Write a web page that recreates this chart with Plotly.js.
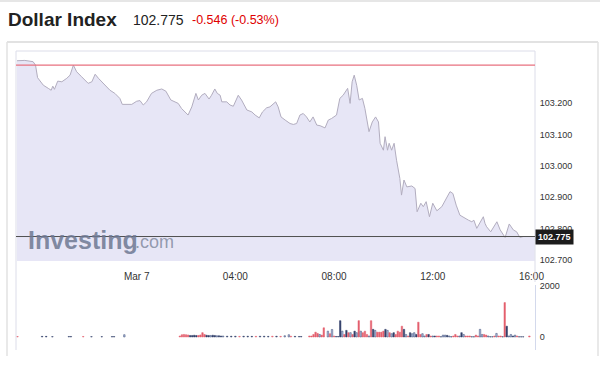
<!DOCTYPE html>
<html><head><meta charset="utf-8">
<script src="https://cdn.plot.ly/plotly-3.0.1.min.js"></script>
<style>html,body{margin:0;padding:0;background:#fff}#chart{width:600px;height:366px}</style>
</head><body><div id="chart"></div><script>
// ---- data ----
const instrument = "Dollar Index";
const lastPrice = 102.775;
const change = -0.546;
const changePct = -0.53;
const prevClose = 103.321;

const priceTimes = ["6 19:09","6 19:28","6 19:48","6 19:54","6 19:59","6 20:13","6 20:25","6 20:32","6 20:36","6 20:40","6 20:48","6 20:58","6 21:10","6 21:18","6 21:26","6 21:34","6 21:46","6 22:02","6 22:11","6 22:19","6 22:27","6 22:43","6 22:55","6 23:07","6 23:19","6 23:25","6 23:36","6 23:48",
"7 00:00","7 00:08","7 00:16","7 00:24","7 00:36","7 00:49","7 01:01","7 01:11","7 01:23","7 01:33","7 01:41","7 01:49","7 02:05","7 02:14","7 02:24","7 02:30","7 02:38","7 02:46","7 02:56","7 03:02","7 03:10","7 03:16","7 03:23","7 03:27","7 03:39","7 03:47","7 03:55",
"7 04:07","7 04:15","7 04:28","7 04:40","7 04:48","7 04:58","7 05:06","7 05:16","7 05:24","7 05:38","7 05:44","7 05:51","7 06:01","7 06:13","7 06:21","7 06:29","7 06:37","7 06:45","7 06:53","7 07:01","7 07:09","7 07:18","7 07:26","7 07:38","7 07:46","7 07:54",
"7 08:06","7 08:14","7 08:22","7 08:33","7 08:39","7 08:44","7 08:49","7 08:55","7 09:01","7 09:09","7 09:15","7 09:25","7 09:33","7 09:41","7 09:48","7 09:52","7 10:00","7 10:04","7 10:10","7 10:14","7 10:20","7 10:26","7 10:32","7 10:40","7 10:44","7 10:50","7 10:57","7 11:09","7 11:17","7 11:22","7 11:31","7 11:37","7 11:44","7 11:52",
"7 12:00","7 12:10","7 12:22","7 12:34","7 12:42","7 12:49","7 12:57","7 13:06","7 13:18","7 13:27","7 13:35","7 13:40","7 13:47","7 13:55","7 14:03","7 14:07","7 14:11","7 14:21","7 14:27","7 14:36","7 14:44","7 14:56","7 15:06","7 15:16","7 15:24","7 15:32","7 15:40","7 16:08"];
const priceValues = [103.335,103.336,103.332,103.321,103.281,103.257,103.247,103.241,103.254,103.244,103.270,103.268,103.279,103.289,103.321,103.300,103.284,103.263,103.268,103.292,103.279,103.257,103.241,103.231,103.215,103.196,103.196,103.196,
103.206,103.208,103.194,103.204,103.231,103.241,103.245,103.238,103.210,103.204,103.199,103.183,103.162,103.188,103.231,103.210,103.225,103.231,103.213,103.225,103.245,103.231,103.225,103.204,103.204,103.194,103.190,
103.225,103.210,103.178,103.172,103.162,103.153,103.172,103.185,103.188,103.204,103.188,103.156,103.146,103.135,103.132,103.135,103.162,103.167,103.156,103.140,103.156,103.130,103.128,103.121,103.146,103.151,
103.162,103.215,103.225,103.247,103.199,103.268,103.289,103.257,103.210,103.215,103.183,103.109,103.140,103.156,103.140,103.072,103.050,103.093,103.050,103.072,103.050,103.072,103.018,102.960,102.907,102.955,102.933,102.936,102.928,102.854,102.881,102.870,102.886,102.838,
102.881,102.857,102.870,102.902,102.918,102.912,102.875,102.843,102.833,102.827,102.822,102.827,102.801,102.822,102.838,102.817,102.806,102.790,102.804,102.822,102.796,102.772,102.815,102.796,102.790,102.772,102.775,102.775];

const volTimes = ["6 19:10","6 20:10","6 20:20","6 20:35","6 21:15","6 21:20","6 21:50","6 22:10","6 22:35","6 23:00","6 23:05","6 23:30",
"7 01:45","7 01:50","7 01:55","7 02:00","7 02:05","7 02:10","7 02:15","7 02:20","7 02:25","7 02:30","7 02:35","7 02:40","7 02:45","7 02:50","7 02:55","7 03:00","7 03:05","7 03:10","7 03:15","7 03:20","7 03:25","7 03:30",
"7 03:40","7 03:50","7 04:00","7 04:10","7 04:20","7 04:30","7 04:40","7 04:50","7 05:00","7 05:10","7 05:20","7 05:30","7 05:40","7 05:50","7 06:00","7 06:10","7 06:15","7 06:25","7 06:35","7 06:40",
"7 07:00","7 07:05","7 07:10","7 07:15","7 07:20","7 07:25","7 07:30","7 07:35","7 07:45","7 07:50","7 07:55","7 08:00","7 08:05","7 08:10",
"7 08:15","7 08:20","7 08:25","7 08:30","7 08:35","7 08:40","7 08:45","7 08:50","7 08:55","7 09:00","7 09:05","7 09:10","7 09:15","7 09:20","7 09:25","7 09:30","7 09:35","7 09:40","7 09:45","7 09:50","7 09:55",
"7 10:00","7 10:05","7 10:10","7 10:15","7 10:20","7 10:25","7 10:30","7 10:35","7 10:40","7 10:45","7 10:50","7 10:55","7 11:00","7 11:05","7 11:10","7 11:15","7 11:20","7 11:25","7 11:30","7 11:35","7 11:40","7 11:45","7 11:50","7 11:55",
"7 12:00","7 12:05","7 12:10","7 12:15","7 12:20","7 12:25","7 12:30","7 12:35","7 12:40","7 12:45","7 12:50","7 12:55","7 13:00","7 13:05","7 13:10","7 13:15","7 13:20","7 13:25","7 13:30","7 13:35","7 13:40","7 13:45","7 13:50","7 13:55",
"7 14:00","7 14:05","7 14:10","7 14:15","7 14:20","7 14:25","7 14:30","7 14:35","7 14:40","7 14:45","7 14:50","7 14:55","7 15:00","7 15:05","7 15:10","7 15:15","7 15:20","7 15:25","7 15:30","7 15:35","7 15:40","7 15:55"];
const volValues = [20,25,25,15,20,20,20,15,15,15,15,90,
40,90,100,90,80,60,60,70,60,60,80,170,100,70,60,60,70,60,50,50,40,40,
30,30,30,25,30,30,25,25,30,30,25,30,30,25,50,90,30,25,20,20,
40,40,100,190,140,100,75,360,230,130,295,40,20,20,
640,230,100,260,170,170,100,230,170,640,230,170,230,100,40,640,300,260,190,190,190,
230,300,260,170,130,170,100,230,190,425,300,100,40,170,130,170,100,580,100,130,40,100,100,40,
40,40,40,40,10,75,75,65,40,10,40,100,40,40,170,100,40,40,40,10,10,75,40,300,
100,100,75,40,10,10,40,140,40,40,10,1350,425,40,100,40,75,40,10,10,10,40];
const volDir = ["r","d","d","d","d","d","r","d","d","d","d","b",
"r","r","r","r","r","d","d","d","d","r","r","r","r","d","d","b","d","d","b","d","d","b",
"d","d","d","r","d","d","d","r","d","d","d","r","d","r","b","b","r","d","d","d",
"r","r","r","r","r","b","r","r","b","r","b","r","d","d",
"d","b","r","d","r","b","r","d","b","r","b","r","r","r","b","r","d","b","r","r","r",
"r","d","b","r","b","d","r","r","r","r","d","b","r","d","b","b","d","r","r","b","b","r","d","r",
"b","d","r","r","d","b","b","d","b","d","r","r","r","b","d","b","r","r","r","d","d","r","r","b",
"b","r","r","b","d","d","r","b","r","r","d","r","d","b","b","d","b","r","d","d","d","r"];

const xTickVals = ["7 00:00","7 04:00","7 08:00","7 12:00","7 16:00"];
const xTickText = ["Mar 7","04:00","08:00","12:00","16:00"];
const priceTicks = [102.7,102.8,102.9,103.0,103.1,103.2];
const volTicks = [0,2000];

// ---- build ----
const toDate = s => "2024-03-0" + s.slice(0,1) + " " + s.slice(2);
const FONT = "Liberation Sans, Arial, Helvetica, sans-serif";
const dirFill = {r:"#e4606f", d:"#33406a", b:"#b3c0e2"};
const dirLine = {r:"#e4606f", d:"#33406a", b:"#3b4a74"};

// pixel helpers for layout placement (plot frame 16..535 x 51..350)
const PL=16, PR=535, PT=51, PB=350;
const px = x => (x-PL)/(PR-PL);
const py = y => (PB-y)/(PB-PT);

const traces = [
  {type:"scatter", mode:"lines", x:priceTimes.map(toDate), y:priceValues,
   fill:"tozeroy", fillcolor:"#e7e6f6", line:{color:"#b2adbf", width:1}, xaxis:"x", yaxis:"y", hoverinfo:"skip"},
  {type:"bar", x:volTimes.map(toDate), y:volValues, xaxis:"x", yaxis:"y2",
   width:3.6*60000,
   marker:{color:volDir.map(d=>dirFill[d]), line:{color:volDir.map(d=>dirLine[d]), width:0.5}}, hoverinfo:"skip"}
];

const fmt3 = v => v.toFixed(3);
const layout = {
  width:600, height:366,
  margin:{l:PL, r:600-PR, t:PT, b:366-PB, pad:0},
  paper_bgcolor:"#fff", plot_bgcolor:"rgba(0,0,0,0)",
  showlegend:false, bargap:0,
  font:{family:FONT, color:"#333"},
  xaxis:{type:"date", anchor:"y", domain:[0,1],
    range:["2024-03-06 19:06:30","2024-03-07 16:08:40"],
    tickvals:xTickVals.map(toDate), ticktext:xTickText,
    tickfont:{size:10, color:"#333", family:FONT},
    showgrid:false, zeroline:false, showline:false,
    ticks:"outside", ticklen:6, tickcolor:"rgba(0,0,0,0)", fixedrange:true},
  yaxis:{domain:[py(261),1], range:[102.697,103.366], side:"right", anchor:"x",
    tickvals:priceTicks, ticktext:priceTicks.map(fmt3),
    tickfont:{size:9, color:"#333", family:FONT},
    showgrid:false, zeroline:false, showline:false,
    ticks:"outside", ticklen:2, tickcolor:"rgba(0,0,0,0)", fixedrange:true},
  yaxis2:{domain:[0,py(285)], range:[-510,2039], side:"right", anchor:"x",
    tickvals:volTicks, ticktext:volTicks.map(String),
    tickfont:{size:9, color:"#333", family:FONT},
    showgrid:false, zeroline:false, showline:true, linecolor:"#d3d9ec", linewidth:1,
    ticks:"outside", ticklen:2, tickcolor:"rgba(0,0,0,0)", fixedrange:true},
  shapes:[
    // outer widget frame
    {type:"line", xref:"paper", yref:"paper", x0:-0.1, x1:1.2, y0:py(1), y1:py(1), line:{color:"#e6e6e6", width:2}},
    {type:"line", xref:"paper", yref:"paper", x0:px(7), x1:px(598), y0:py(42), y1:py(42), line:{color:"#e2e2e2", width:2}},
    {type:"line", xref:"paper", yref:"paper", x0:px(7), x1:px(7), y0:py(42), y1:py(356), line:{color:"#e2e2e2", width:1.5}},
    {type:"line", xref:"paper", yref:"paper", x0:px(598), x1:px(598), y0:py(42), y1:py(356), line:{color:"#e2e2e2", width:1.5}},
    // chart frame
    {type:"line", xref:"paper", yref:"paper", x0:0, x1:0, y0:0, y1:1, line:{color:"#dcdde9", width:1}},
    {type:"line", xref:"paper", yref:"paper", x0:0, x1:1, y0:1, y1:1, line:{color:"#dcdde9", width:1}},
    {type:"line", xref:"paper", yref:"paper", x0:1, x1:1, y0:py(282), y1:1, line:{color:"#dcdde9", width:1}},
    // previous close and last price
    {type:"line", xref:"paper", yref:"y", x0:0, x1:1, y0:prevClose, y1:prevClose, line:{color:"#e8707f", width:1.3}, layer:"above"},
    {type:"line", xref:"paper", yref:"y", x0:0, x1:1, y0:lastPrice, y1:lastPrice, line:{color:"#505050", width:1}, layer:"above"}
  ],
  annotations:[
    {xref:"paper", yref:"paper", x:px(6), y:py(19), xanchor:"left", yanchor:"middle", showarrow:false,
     text:"<b>"+instrument+"</b>", font:{size:19, color:"#222", family:FONT}},
    {xref:"paper", yref:"paper", x:px(131), y:py(20), xanchor:"left", yanchor:"middle", showarrow:false,
     text:fmt3(lastPrice), font:{size:14, color:"#222", family:FONT}},
    {xref:"paper", yref:"paper", x:px(190), y:py(20), xanchor:"left", yanchor:"middle", showarrow:false,
     text:fmt3(change)+" ("+changePct.toFixed(2)+"%)", font:{size:12.5, color:"#e00000", family:FONT}},
    {xref:"paper", yref:"paper", x:px(26), y:py(240), xanchor:"left", yanchor:"middle", showarrow:false,
     text:"<b>Investing</b>", font:{size:25, color:"rgba(110,120,146,0.85)", family:FONT}},
    {xref:"paper", yref:"paper", x:px(133), y:py(242), xanchor:"left", yanchor:"middle", showarrow:false,
     text:".com", font:{size:18, color:"rgba(125,133,155,0.8)", family:FONT}},
    {xref:"paper", yref:"y", x:1, y:lastPrice, xanchor:"left", yanchor:"middle", showarrow:false,
     text:"<b>"+fmt3(lastPrice)+"</b>", font:{size:9, color:"#fff", family:FONT}, bgcolor:"#1c1c1c", borderpad:2}
  ]
};

Plotly.newPlot("chart", traces, layout, {staticPlot:true, displayModeBar:false});
</script></body></html>
